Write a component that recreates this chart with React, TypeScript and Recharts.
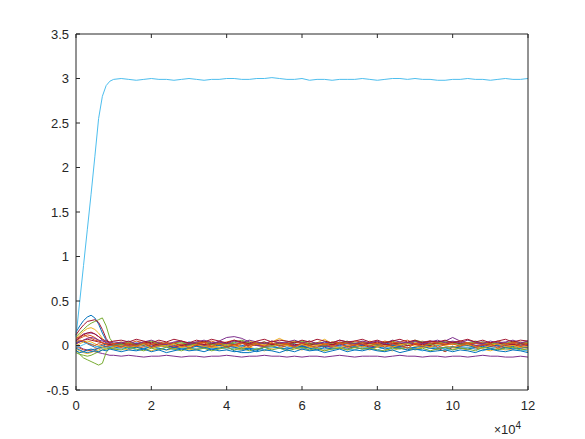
import { LineChart, Line, XAxis, YAxis } from "recharts";

// sample positions (iterations)
const xs = [
  0, 1000, 2000, 3000, 4000, 5000, 6000, 7000, 8000, 9000, 10000,
  12000, 14000, 16000, 18000, 20000, 22000, 24000, 26000, 28000, 30000, 32000,
  34000, 36000, 38000, 40000, 42000, 44000, 46000, 48000, 50000, 52000, 54000,
  56000, 58000, 60000, 62000, 64000, 66000, 68000, 70000, 72000, 74000, 76000,
  78000, 80000, 82000, 84000, 86000, 88000, 90000, 92000, 94000, 96000, 98000,
  100000, 102000, 104000, 106000, 108000, 110000, 112000, 114000, 116000, 118000, 120000,
];

const blue1 = [
  .15, .22, .28, .32, .34, .31, .24, .14, .06, .02, .01,
  .02, .00, .03, .01, -.01, .02, .03, .00, .01, .04, .02,
  .00, -.02, .01, .03, .02, .00, .01, .03, .02, .00, .01,
  .03, .02, -.01, .00, .02, .04, .01, .00, .02, .03, .01,
  .00, .02, .03, .01, -.01, .02, .04, .02, .01, .00, .02,
  .03, .01, .00, .02, .04, .02, .01, .03, .02, .00, .03,
];
const orange1 = [
  .05, .08, .10, .12, .11, .09, .06, .03, .01, .00, -.01,
  .00, .02, .01, -.01, .01, .03, .00, -.02, .01, .02, .00,
  .01, .03, .00, .01, -.01, .02, .03, .01, .00, .02, .04,
  .01, .00, .02, .03, .01, -.01, .00, .02, .03, .01, .00,
  .02, .04, .01, .00, .02, .03, .01, .02, .00, .03, .02,
  .01, .03, .02, .00, .01, .03, .02, .00, .02, .01, .03,
];
const yellow1 = [
  .08, .12, .16, .19, .20, .18, .14, .08, .03, .00, -.01,
  .01, -.02, .00, .02, .01, -.01, .03, .02, .00, -.01, .02,
  .04, .02, .01, .03, .00, .02, .05, .03, .01, .04, .08,
  .04, .05, .02, .00, .03, .07, .02, .02, .04, .03, .01,
  .05, .02, .03, .04, .01, .00, .03, .05, .02, .04, .02,
  .01, .03, .00, -.02, .01, .03, .01, .00, -.03, .01, .02,
];
const purple1 = [
  .00, -.02, -.04, -.05, -.06, -.07, -.08, -.09, -.10, -.11, -.11,
  -.12, -.11, -.12, -.13, -.12, -.12, -.11, -.12, -.13, -.12, -.12,
  -.13, -.12, -.12, -.11, -.12, -.13, -.12, -.12, -.11, -.12, -.12,
  -.13, -.12, -.13, -.12, -.12, -.13, -.12, -.11, -.12, -.13, -.12,
  -.12, -.12, -.13, -.12, -.11, -.12, -.12, -.13, -.12, -.12, -.13,
  -.12, -.12, -.13, -.12, -.11, -.12, -.12, -.13, -.13, -.12, -.13,
];
const green1 = [
  .10, .14, .18, .22, .25, .27, .29, .31, .22, .08, .02,
  .02, .04, .01, .03, .05, .02, .00, .03, .04, .01, .03,
  .05, .02, .03, .01, .04, .06, .03, .02, .04, .01, .03,
  .02, .04, .05, .02, .03, .01, .04, .03, .05, .02, .04,
  .03, .01, .04, .05, .02, .03, .06, .04, .02, .03, .05,
  .04, .02, .03, .05, .03, .01, .04, .02, .05, .03, .04,
];
const lightblue1 = [
  .10, .50, .90, 1.30, 1.70, 2.12, 2.55, 2.80, 2.92, 2.97, 2.99,
  3.00, 2.99, 2.98, 2.99, 3.00, 2.99, 2.99, 2.98, 2.99, 3.00, 2.99,
  2.98, 2.99, 2.99, 3.00, 3.00, 2.99, 2.99, 3.00, 3.00, 3.01, 3.00,
  2.99, 2.99, 3.00, 2.98, 2.99, 2.99, 2.98, 2.99, 2.99, 2.99, 3.00,
  2.99, 2.98, 2.99, 3.00, 3.00, 2.99, 3.00, 2.99, 2.99, 2.98, 2.98,
  2.99, 2.99, 3.00, 2.99, 2.99, 2.98, 2.99, 3.00, 2.99, 2.99, 3.00,
];
const red1 = [
  .12, .18, .23, .27, .28, .29, .26, .18, .08, .02, .00,
  .00, -.02, .01, .00, -.01, .02, .00, -.02, -.01, .01, .00,
  -.01, .01, .02, -.01, .00, -.02, .01, .00, -.01, .02, .00,
  .01, -.01, .00, .02, .00, -.01, .01, .02, -.01, .00, .01,
  -.02, .00, .01, -.01, -.02, .00, .01, -.01, .00, -.03, -.07,
  -.02, .00, .01, -.01, .00, .02, -.01, .00, .01, -.01, .00,
];
const blue2 = [
  .03, .05, .04, .02, .00, -.02, -.01, .00, .02, .01, .00,
  .01, -.03, -.01, .00, -.02, -.01, .01, -.03, -.02, .00, -.01,
  -.03, -.02, .00, -.01, -.06, -.08, -.08, -.06, -.02, -.01, .00,
  -.02, -.01, .00, -.03, -.02, .00, -.01, -.02, -.04, -.01, .00,
  -.03, -.01, -.02, .00, -.01, -.03, -.02, .00, -.01, -.02, -.04,
  -.02, -.01, .00, -.02, -.03, -.01, .00, -.02, -.01, -.03, -.02,
];
const orange2 = [
  -.02, -.03, -.05, -.06, -.05, -.04, -.03, -.02, -.01, .00, -.01,
  -.02, .00, -.01, -.03, -.02, .00, -.02, -.03, -.01, -.02, -.04,
  -.02, -.01, -.03, -.02, .00, -.01, -.03, -.04, -.02, -.01, -.03,
  .00, -.02, -.03, -.01, -.02, -.04, -.02, -.01, -.03, -.02, -.01,
  -.03, -.02, .00, -.01, -.03, -.02, -.04, -.02, -.01, -.03, -.02,
  -.01, -.03, -.02, -.04, -.02, -.01, -.03, -.02, .00, -.02, -.03,
];
const yellow2 = [
  -.04, -.06, -.08, -.09, -.08, -.06, -.05, -.03, -.02, -.03, -.04,
  -.03, -.05, -.02, -.04, -.06, -.03, -.05, -.04, -.02, -.05, -.03,
  -.03, -.02, -.02, -.04, -.03, -.05, -.02, -.04, -.06, -.03, -.02,
  -.04, -.03, -.05, -.02, -.04, -.06, -.03, -.02, -.05, -.04, -.03,
  -.05, -.02, -.04, -.06, -.03, -.05, -.04, -.02, -.03, -.05, -.06,
  -.04, -.03, -.05, -.02, -.04, -.06, -.03, -.05, -.04, -.02, -.07,
];
const purple2 = [
  .05, .10, .13, .14, .14, .13, .10, .06, .03, .01, .00,
  .01, -.01, .00, .02, -.01, .00, .01, -.02, .00, .01, .02,
  .00, .01, .05, .09, .10, .08, .04, .00, -.01, .01, .00,
  .02, .00, -.01, .01, .02, .00, -.02, .01, .00, .02, .01,
  -.01, .01, .00, .02, .01, .03, .02, .04, .05, .04, .05,
  .09, .05, .02, .00, .01, -.01, .02, .00, .01, .02, .00,
];
const green2 = [
  -.05, -.10, -.14, -.16, -.18, -.20, -.22, -.20, -.08, -.02, .00,
  .01, .03, .00, .02, .04, .01, -.01, .02, .03, .00, .02,
  .04, .01, .02, .00, .03, .05, .02, .01, .03, .00, .02,
  .01, .03, .04, .01, .02, .00, .03, .02, .04, .01, .03,
  .02, .00, .03, .04, .01, .02, .05, .03, .01, .02, .04,
  .03, .01, .02, .04, .02, .00, .03, .01, .04, .02, .03,
];
const lightblue2 = [
  -.02, -.01, .01, .03, .02, .00, -.02, -.03, -.02, -.01, -.02,
  -.04, -.02, -.05, -.03, -.01, -.04, -.02, -.05, -.03, -.02, -.04,
  -.03, -.05, -.02, -.04, -.03, -.01, -.04, -.03, -.05, -.02, -.03,
  -.04, -.02, -.03, -.05, -.02, -.04, -.03, -.01, -.04, -.05, -.02,
  -.03, -.05, -.02, -.04, -.03, -.02, -.04, -.06, -.03, -.02, -.04,
  -.05, -.03, -.02, -.04, -.06, -.03, -.02, -.04, -.03, -.05, -.06,
];
const red2 = [
  .02, .04, .06, .07, .06, .05, .04, .03, .02, .01, .02,
  .03, .01, .02, .04, .02, .01, .03, .02, .00, .02, .03,
  .01, .02, .04, .02, .01, .03, .00, .02, .04, .01, .02,
  .03, .01, .02, .00, .03, .02, .01, .04, .02, .01, .03,
  .02, .04, .01, .02, .03, .00, .02, .01, .03, .02, .01,
  .04, .02, .01, .03, .02, .00, .02, .03, .01, .02, .01,
];
const blue3 = [
  -.06, -.08, -.07, -.05, -.04, -.05, -.03, -.02, -.01, -.02, -.03,
  -.01, -.03, -.02, -.04, -.01, -.03, -.05, -.02, -.04, -.03, -.01,
  -.02, -.04, -.03, -.01, -.02, -.04, -.03, -.05, -.02, -.01, -.03,
  -.04, -.02, -.01, -.03, -.05, -.02, -.04, -.03, -.01, -.02, -.04,
  -.03, -.01, -.04, -.02, -.03, -.05, -.02, -.01, -.03, -.04, -.02,
  -.01, -.03, -.04, -.02, -.01, -.03, -.05, -.02, -.04, -.03, -.01,
];
const orange3 = [
  .08, .10, .12, .10, .08, .06, .05, .03, .02, .03, .02,
  .04, .02, .05, .03, .01, .04, .02, .03, .05, .02, .04,
  .03, .05, .02, .04, .06, .03, .01, .04, .02, .05, .03,
  .02, .04, .03, .05, .02, .01, .04, .03, .02, .05, .04,
  .03, .02, .05, .03, .04, .06, .02, .03, .05, .02, .03,
  .04, .05, .03, .02, .04, .03, .05, .02, .03, .04, .02,
];
const yellow3 = [
  .00, .02, .04, .05, .04, .02, .00, -.02, -.04, -.03, -.02,
  .00, -.02, -.01, .01, -.03, -.01, .00, .02, -.02, -.01, .01,
  -.01, .00, -.02, .01, .00, -.03, -.01, .02, .00, -.01, .01,
  .00, -.02, .01, -.01, .00, .02, -.01, -.03, .00, .01, -.02,
  .01, -.01, .00, -.02, .01, .02, -.01, .00, -.02, .01, .00,
  -.02, .00, .01, -.01, -.03, .00, .02, -.01, .00, -.02, -.01,
];
const purple3 = [
  .02, .04, .06, .08, .09, .08, .06, .05, .04, .03, .04,
  .03, .05, .02, .04, .06, .03, .01, .04, .05, .02, .04,
  .06, .03, .04, .02, .05, .03, .06, .04, .02, .05, .03,
  .04, .06, .03, .05, .02, .04, .03, .06, .04, .02, .05,
  .03, .05, .02, .06, .04, .03, .05, .02, .04, .06, .03,
  .05, .03, .06, .04, .02, .05, .03, .04, .06, .03, .05,
];
const green3 = [
  -.08, -.10, -.11, -.12, -.11, -.09, -.07, -.05, -.04, -.03, -.04,
  -.05, -.02, -.04, -.06, -.03, -.05, -.02, -.04, -.06, -.03, -.05,
  -.03, -.06, -.04, -.02, -.05, -.03, -.06, -.04, -.02, -.05, -.03,
  -.06, -.04, -.02, -.05, -.03, -.06, -.04, -.03, -.05, -.02, -.04,
  -.03, -.05, -.06, -.03, -.04, -.02, -.05, -.03, -.06, -.04, -.02,
  -.05, -.03, -.04, -.06, -.02, -.04, -.05, -.03, -.02, -.05, -.04,
];
const red3 = [
  .06, .09, .12, .14, .15, .13, .10, .07, .05, .04, .05,
  .06, .04, .07, .05, .03, .06, .04, .07, .05, .03, .06,
  .04, .07, .05, .03, .06, .04, .02, .05, .07, .04, .06,
  .05, .03, .06, .04, .07, .05, .03, .06, .04, .05, .07,
  .04, .06, .03, .05, .07, .04, .06, .03, .05, .04, .06,
  .03, .05, .07, .04, .06, .03, .05, .07, .04, .06, .05,
];
const blue4 = [
  -.03, -.05, -.07, -.08, -.07, -.06, -.07, -.05, -.06, -.04, -.05,
  -.07, -.05, -.06, -.04, -.07, -.05, -.08, -.06, -.04, -.06, -.05,
  -.07, -.04, -.06, -.05, -.07, -.06, -.04, -.07, -.05, -.06, -.08,
  -.05, -.07, -.04, -.06, -.05, -.08, -.06, -.04, -.07, -.05, -.06,
  -.04, -.06, -.07, -.05, -.08, -.06, -.04, -.05, -.07, -.06, -.05,
  -.07, -.05, -.06, -.08, -.05, -.04, -.06, -.07, -.05, -.06, -.08,
];
const orange4 = [
  .04, .06, .05, .03, .01, .00, .02, .01, -.01, .00, .01,
  -.02, .02, -.01, .03, -.02, .01, .03, -.01, .02, -.03, .01,
  .03, -.01, .02, -.02, .01, .03, -.02, .02, -.01, .03, -.01,
  .02, -.02, .03, .00, -.02, .02, -.01, .03, -.02, .01, .02,
  -.01, .03, -.02, .02, .00, -.03, .02, -.01, .03, -.02, .01,
  .02, -.01, .03, -.02, .01, .02, -.03, .01, .03, -.01, .02,
];

const xTicks = [0, 20000, 40000, 60000, 80000, 100000, 120000];
const yTicks = [-0.5, 0, 0.5, 1, 1.5, 2, 2.5, 3, 3.5];

// MATLAB default colour order
const C = ["#0072BD", "#D95319", "#EDB120", "#7E2F8E", "#77AC30", "#4DBEEE", "#A2142F"];

const series = [
  { key: "s1", color: C[0], values: blue1 },
  { key: "s2", color: C[1], values: orange1 },
  { key: "s3", color: C[2], values: yellow1 },
  { key: "s4", color: C[3], values: purple1 },
  { key: "s5", color: C[4], values: green1 },
  { key: "s6", color: C[5], values: lightblue1 },
  { key: "s7", color: C[6], values: red1 },
  { key: "s8", color: C[0], values: blue2 },
  { key: "s9", color: C[1], values: orange2 },
  { key: "s10", color: C[2], values: yellow2 },
  { key: "s11", color: C[3], values: purple2 },
  { key: "s12", color: C[4], values: green2 },
  { key: "s13", color: C[5], values: lightblue2 },
  { key: "s14", color: C[6], values: red2 },
  { key: "s15", color: C[0], values: blue3 },
  { key: "s16", color: C[1], values: orange3 },
  { key: "s17", color: C[2], values: yellow3 },
  { key: "s18", color: C[3], values: purple3 },
  { key: "s19", color: C[4], values: green3 },
  { key: "s20", color: C[6], values: red3 },
  { key: "s21", color: C[0], values: blue4 },
  { key: "s22", color: C[1], values: orange4 },
];

const data = xs.map((x, i) => {
  const row: Record<string, number> = { x };
  series.forEach((s) => { row[s.key] = s.values[i]; });
  return row;
});

const AX = "#262626";
const FONT = "Liberation Sans, Arial, sans-serif";
const tickStyle = { fill: AX, fontSize: 13, fontFamily: FONT };

export default function App() {
  return (
    <div style={{ position: "absolute", left: 0, top: 0, width: 585, height: 439, background: "#fff" }}>
      <LineChart width={585} height={439} data={data} margin={{ top: 33, right: 56, left: 36, bottom: 19 }}>
        <XAxis
          dataKey="x" type="number" domain={[0, 120000]} ticks={xTicks}
          tickFormatter={(v) => String(v / 10000)}
          tickSize={-4} tickMargin={15} height={30}
          stroke={AX} tick={tickStyle}
        />
        <XAxis
          xAxisId="top" orientation="top" dataKey="x" type="number" domain={[0, 120000]} ticks={xTicks}
          tickFormatter={() => ""} tickSize={-4} height={1} stroke={AX}
        />
        <YAxis
          type="number" domain={[-0.5, 3.5]} ticks={yTicks}
          tickSize={-4} tickMargin={11} width={40}
          stroke={AX} tick={tickStyle}
        />
        <YAxis
          yAxisId="right" orientation="right" type="number" domain={[-0.5, 3.5]} ticks={yTicks}
          tickFormatter={() => ""} tickSize={-4} width={1} stroke={AX}
        />
        {series.map((s) => (
          <Line
            key={s.key}
            type="linear"
            dataKey={s.key}
            stroke={s.color}
            strokeWidth={1}
            dot={false}
            isAnimationActive={false}
          />
        ))}
      </LineChart>
      <div style={{ position: "absolute", left: 494, top: 418, fontFamily: FONT, fontSize: 13, color: AX, lineHeight: "16px" }}>
        <span style={{ fontSize: 12 }}>×</span>10<sup style={{ fontSize: 10 }}>4</sup>
      </div>
    </div>
  );
}
